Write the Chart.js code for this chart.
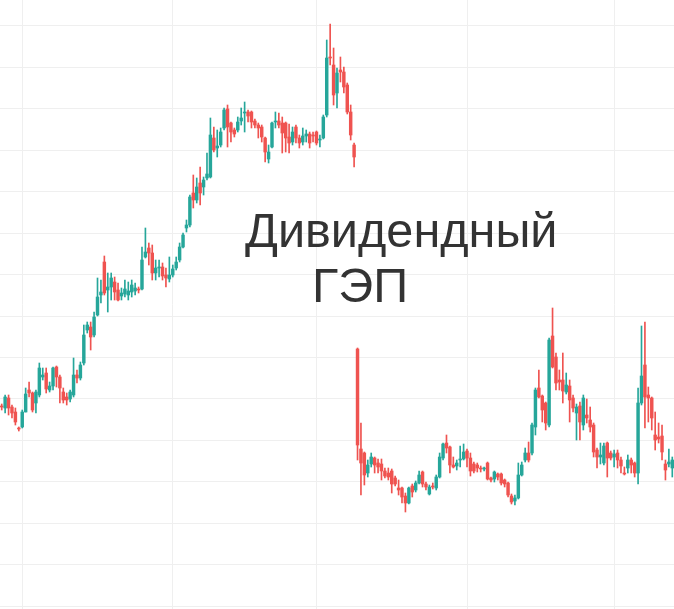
<!DOCTYPE html>
<html lang="ru">
<head>
<meta charset="utf-8">
<title>Дивидендный ГЭП</title>
<script src="https://cdn.jsdelivr.net/npm/chart.js@4.4.1/dist/chart.umd.min.js"></script>
<style>
  html, body { margin: 0; padding: 0; background: #fff; }
  #wrap { position: relative; width: 674px; height: 609px; overflow: hidden; }
  .label {
    position: absolute;
    font-family: "Liberation Sans", Arial, sans-serif;
    font-size: 48.6px;
    line-height: 48px;
    color: #333;
    white-space: nowrap;
  }
</style>
</head>
<body>
<div id="wrap">
  <canvas id="chart" width="674" height="609"></canvas>
  <div class="label" style="left:245px; top:206px">Дивидендный</div>
  <div class="label" style="left:312px; top:261px">ГЭП</div>
</div>
<script>
// daily candles, price
const opens = [
  600, 598, 608, 599, 594, 578, 579, 594, 616, 613,
  603, 611, 629, 633, 616, 620, 639, 629, 614, 609,
  607, 611, 631, 628, 643, 676, 679, 671, 691, 711,
  744, 716, 719, 724, 716, 710, 712, 711, 714, 715,
  717, 717, 749, 758, 753, 733, 738, 739, 731, 727,
  731, 738, 746, 759, 778, 781, 813, 806, 823, 819,
  828, 829, 868, 858, 861, 878, 897, 883, 876, 876,
  885, 893, 894, 894, 885, 881, 879, 868, 847, 859,
  884, 885, 883, 883, 869, 864, 879, 868, 864, 870,
  872, 871, 874, 866, 868, 891, 949, 941, 913, 936,
  934, 921, 894, 861,
  657, 557, 553, 533, 542, 548,
  543, 542, 535, 533, 535, 528, 518, 518, 510, 503,
  520, 516, 523, 534, 522, 512, 520, 518, 529, 548,
  563, 559, 541, 540, 546, 547, 555, 548, 542, 541,
  538, 537, 543, 528, 527, 532, 532, 526, 523, 510,
  505, 508, 531, 546, 553, 553, 579, 618, 610, 603,
  581, 670, 649, 626, 626, 614, 620, 608, 593, 600,
  581, 591, 586, 581, 556, 549, 543, 563, 553, 549,
  553, 546, 533, 538, 546, 543, 533, 603, 641, 611,
  608, 571, 569, 570, 542, 542, 538
];
const highs = [
  602, 611, 611, 601, 598, 579, 596, 618, 624, 614,
  616, 643, 638, 638, 624, 639, 640, 631, 618, 613,
  616, 648, 636, 644, 681, 684, 684, 694, 728, 726,
  750, 733, 733, 729, 723, 718, 726, 724, 726, 723,
  719, 759, 778, 763, 761, 746, 746, 743, 738, 749,
  741, 749, 763, 773, 786, 811, 831, 828, 839, 829,
  853, 888, 879, 876, 878, 898, 901, 884, 878, 889,
  898, 904, 896, 895, 887, 883, 881, 869, 861, 884,
  894, 893, 889, 884, 882, 879, 881, 871, 878, 876,
  874, 874, 875, 871, 891, 966, 982, 958, 938, 949,
  939, 923, 901, 863,
  658, 583, 554, 546, 553, 549,
  547, 547, 538, 538, 537, 530, 526, 519, 513, 519,
  522, 525, 535, 535, 524, 521, 523, 531, 553, 563,
  571, 560, 549, 546, 560, 562, 557, 553, 544, 543,
  540, 539, 544, 529, 535, 533, 533, 527, 524, 512,
  511, 543, 544, 558, 564, 583, 618, 636, 611, 604,
  668, 698, 653, 636, 653, 633, 626, 611, 602, 604,
  611, 607, 599, 583, 558, 563, 563, 564, 555, 556,
  556, 549, 539, 551, 548, 544, 618, 680, 684, 619,
  609, 594, 583, 581, 546, 557, 549
];
const lows = [
  596, 593, 591, 588, 581, 575, 578, 594, 609, 594,
  593, 609, 626, 613, 614, 616, 619, 603, 603, 601,
  604, 609, 623, 626, 641, 673, 656, 669, 690, 703,
  711, 694, 706, 706, 705, 706, 709, 706, 709, 711,
  713, 716, 748, 741, 726, 726, 729, 726, 719, 724,
  729, 736, 744, 758, 774, 779, 798, 803, 801, 811,
  826, 828, 854, 849, 859, 876, 859, 864, 869, 874,
  881, 874, 884, 878, 878, 868, 864, 844, 843, 858,
  878, 878, 853, 854, 853, 861, 863, 858, 861, 864,
  858, 864, 861, 859, 867, 889, 941, 901, 898, 924,
  913, 892, 866, 839,
  546, 511, 521, 529, 539, 533,
  533, 526, 528, 526, 513, 520, 511, 503, 494, 502,
  509, 514, 522, 519, 516, 511, 517, 516, 528, 546,
  553, 533, 538, 536, 539, 546, 539, 530, 533, 534,
  534, 535, 526, 524, 524, 526, 521, 519, 509, 502,
  501, 507, 530, 544, 544, 551, 571, 608, 584, 576,
  579, 638, 616, 616, 603, 612, 584, 594, 566, 566,
  576, 583, 574, 549, 538, 542, 541, 529, 546, 539,
  538, 533, 531, 533, 533, 529, 522, 601, 578, 584,
  576, 556, 563, 546, 526, 539, 529
];
const closes = [
  599, 609, 598, 593, 584, 577, 594, 612, 613, 596,
  614, 638, 631, 617, 620, 638, 629, 618, 606, 606,
  614, 631, 628, 641, 671, 681, 669, 689, 709, 714,
  713, 719, 728, 714, 706, 713, 717, 715, 721, 718,
  716, 746, 754, 753, 733, 738, 739, 730, 728, 731,
  737, 744, 759, 771, 781, 809, 806, 819, 813, 826,
  832, 871, 856, 860, 874, 896, 879, 874, 872, 884,
  888, 894, 890, 884, 881, 878, 869, 854, 854, 883,
  885, 881, 873, 868, 863, 874, 868, 863, 870, 872,
  863, 870, 863, 867, 889, 948, 948, 911, 933, 934,
  919, 894, 871, 849,
  561, 543, 531, 541, 549, 541,
  539, 535, 530, 529, 522, 522, 516, 509, 503, 518,
  514, 523, 531, 522, 519, 519, 519, 529, 549, 562,
  558, 541, 539, 543, 547, 554, 548, 535, 535, 538,
  537, 538, 527, 526, 534, 529, 523, 522, 511, 504,
  508, 531, 541, 553, 546, 581, 616, 609, 596, 583,
  666, 639, 623, 624, 615, 621, 606, 598, 599, 584,
  608, 588, 579, 554, 549, 551, 560, 548, 548, 552,
  546, 540, 532, 546, 541, 533, 603, 630, 609, 608,
  588, 566, 567, 554, 536, 544, 546
];
// horizontal price grid and the candles that carry a vertical date line
const gridPrices = [980, 938.57, 897.14, 855.71, 814.29, 772.86, 731.43, 690,
                    648.57, 607.14, 565.71, 524.29, 482.86, 441.43, 400];
const dateLines = [6, 50, 92, 136, 179];
const days = opens.map((_, i) => i + 1);

const upColor = '#26a69a';
const downColor = '#ef5350';
const colors = opens.map((o, i) => closes[i] >= o ? upColor : downColor);

new Chart(document.getElementById('chart'), {
    type: 'bar',
    data: {
        labels: days,
        datasets: [
            {
                label: 'body',
                data: opens.map((o, i) => [o, closes[i]]),
                backgroundColor: colors,
                barThickness: 2.8,
                minBarLength: 1,
                grouped: false
            },
            {
                label: 'wick',
                data: lows.map((l, i) => [l, highs[i]]),
                backgroundColor: colors,
                barThickness: 1,
                grouped: false
            }
        ]
    },
    options: {
        responsive: false,
        animation: false,
        layout: { padding: 0 },
        plugins: {
            legend: { display: false },
            tooltip: { enabled: false }
        },
        scales: {
            x: {
                offset: true,
                grid: {
                    offset: false,
                    drawTicks: false,
                    color: ctx => dateLines.includes(ctx.index) ? '#efefef' : 'rgba(0,0,0,0)'
                },
                ticks: { display: false, autoSkip: false },
                border: { display: false }
            },
            y: {
                min: 397,
                max: 1006,
                grid: { drawTicks: false, color: '#efefef' },
                ticks: { display: false },
                border: { display: false },
                afterBuildTicks: scale => {
                    scale.ticks = gridPrices.map(v => ({ value: v }));
                }
            }
        }
    }
});
</script>
</body>
</html>
